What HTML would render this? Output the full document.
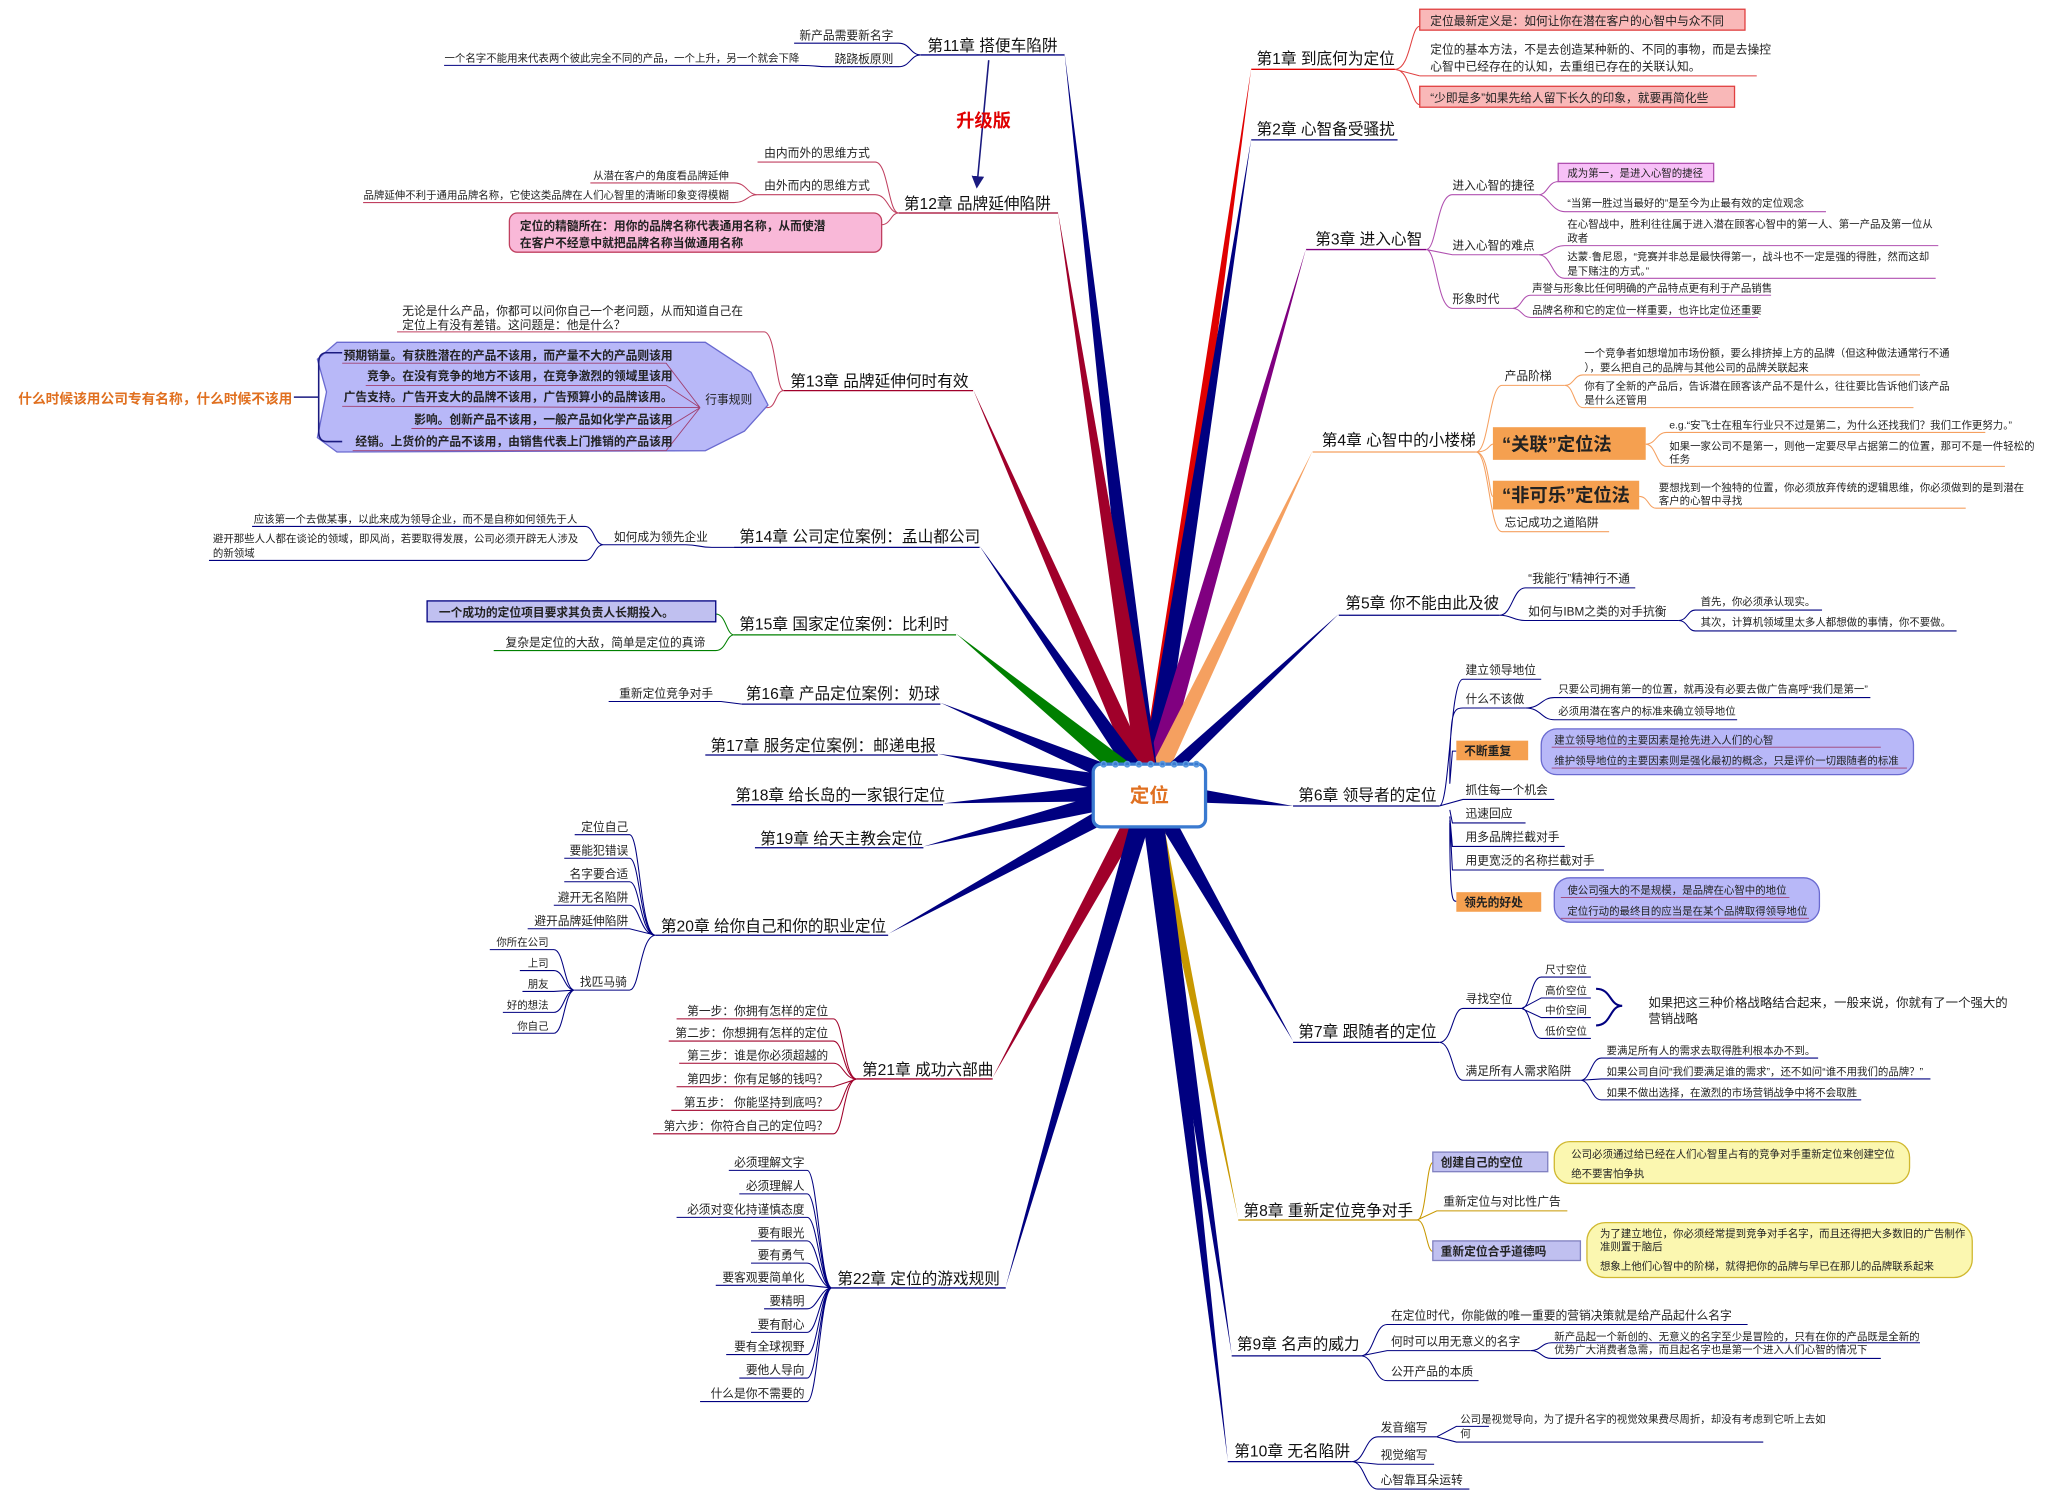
<!DOCTYPE html>
<html><head><meta charset="utf-8"><style>
html,body{margin:0;padding:0;background:#fff}
svg{display:block}
text{font-family:"Liberation Sans","Noto Sans CJK SC",sans-serif;fill:#222}
.c{font-size:12px;fill:#111}
.s{font-size:9px}
.t{font-size:8px}
.b{font-weight:bold}
.e{text-anchor:end}
</style></head><body>
<svg width="2048" height="1497" viewBox="0 0 1568 1146" xmlns="http://www.w3.org/2000/svg">
<defs><marker id="ar" markerWidth="8" markerHeight="8" refX="6" refY="4" orient="auto"><path d="M0,0 L8,4 L0,8 z" fill="#1a1a80"/></marker></defs>

<!-- main branches -->
<g>
<polygon points="872,605 888,605 958,52" fill="#e00000"/>
<polygon points="872,605 888,605 958,106" fill="#000080"/>
<polygon points="872,605 888,605 1000,190" fill="#800080"/>
<polygon points="872,605 888,605 1005,345" fill="#f5a060"/>
<polygon points="872,605 888,605 1025,470" fill="#000080"/>
<polygon points="880,597 880,613 990,617" fill="#000080"/>
<polygon points="872,605 888,605 990,797" fill="#000080"/>
<polygon points="876,605 886,605 948,933" fill="#c89800"/>
<polygon points="872,605 888,605 943,1037" fill="#000080"/>
<polygon points="872,605 888,605 940,1118" fill="#000080"/>
<polygon points="872,605 888,605 815,40" fill="#000080"/>
<polygon points="872,605 888,605 810,162" fill="#a0002a"/>
<polygon points="872,605 888,605 745,298" fill="#a0002a"/>
<polygon points="872,605 888,605 750,418" fill="#000080"/>
<polygon points="885,599 875,612 732,485" fill="#008000"/>
<polygon points="880,597 880,613 720,538" fill="#000080"/>
<polygon points="880,597 880,613 718,577" fill="#000080"/>
<polygon points="880,597 880,613 722,615" fill="#000080"/>
<polygon points="880,597 880,613 707,648" fill="#000080"/>
<polygon points="880,597 880,613 680,715" fill="#000080"/>
<polygon points="872,605 888,605 760,825" fill="#a0002a"/>
<polygon points="872,605 888,605 770,985" fill="#000080"/>
</g>

<!-- center -->
<rect x="837" y="585" width="86" height="48" rx="6" fill="#fff" stroke="#3a7ad0" stroke-width="2.5"/>
<g fill="none" stroke="#5a9ae0" stroke-width="1.2">
<circle cx="845" cy="585" r="2"/><circle cx="854" cy="585" r="2"/><circle cx="863" cy="585" r="2"/><circle cx="872" cy="585" r="2"/><circle cx="881" cy="585" r="2"/><circle cx="890" cy="585" r="2"/><circle cx="899" cy="585" r="2"/><circle cx="908" cy="585" r="2"/><circle cx="916" cy="585" r="2"/>
</g>
<text x="880" y="614" text-anchor="middle" style="font-size:15px;font-weight:bold;fill:#e07020">定位</text>

<!-- chapter labels underlines -->
<g stroke-width="1" fill="none">
<line x1="958" y1="53" x2="1068" y2="53" stroke="#e00000"/>
<line x1="958" y1="107" x2="1070" y2="107" stroke="#000080"/>
<line x1="1000" y1="191" x2="1092" y2="191" stroke="#800080"/>
<line x1="1005" y1="346" x2="1130" y2="346" stroke="#f5a060"/>
<line x1="1025" y1="471" x2="1148" y2="471" stroke="#000080"/>
<line x1="990" y1="617" x2="1102" y2="617" stroke="#000080"/>
<line x1="990" y1="798" x2="1102" y2="798" stroke="#000080"/>
<line x1="948" y1="934" x2="1085" y2="934" stroke="#c89800"/>
<line x1="943" y1="1038" x2="1042" y2="1038" stroke="#000080"/>
<line x1="940" y1="1119" x2="1035" y2="1119" stroke="#000080"/>
<line x1="705" y1="42" x2="815" y2="42" stroke="#000080"/>
<line x1="688" y1="163" x2="810" y2="163" stroke="#a0002a"/>
<line x1="600" y1="299" x2="745" y2="299" stroke="#a0002a"/>
<line x1="562" y1="419" x2="750" y2="419" stroke="#000080"/>
<line x1="562" y1="486" x2="732" y2="486" stroke="#008000"/>
<line x1="568" y1="539" x2="720" y2="539" stroke="#000080"/>
<line x1="540" y1="578" x2="718" y2="578" stroke="#000080"/>
<line x1="560" y1="616" x2="722" y2="616" stroke="#000080"/>
<line x1="578" y1="649" x2="707" y2="649" stroke="#000080"/>
<line x1="502" y1="716" x2="680" y2="716" stroke="#000080"/>
<line x1="656" y1="826" x2="760" y2="826" stroke="#a0002a"/>
<line x1="637" y1="986" x2="770" y2="986" stroke="#000080"/>
</g>
<g class="c">
<text x="962" y="49" class="c">第1章 到底何为定位</text>
<text x="962" y="103" class="c">第2章 心智备受骚扰</text>
<text x="1007" y="187" class="c">第3章 进入心智</text>
<text x="1012" y="341" class="c">第4章 心智中的小楼梯</text>
<text x="1030" y="466" class="c">第5章 你不能由此及彼</text>
<text x="994" y="613" class="c">第6章 领导者的定位</text>
<text x="994" y="794" class="c">第7章 跟随者的定位</text>
<text x="952" y="931" class="c">第8章 重新定位竞争对手</text>
<text x="947" y="1033" class="c">第9章 名声的威力</text>
<text x="945" y="1115" class="c">第10章 无名陷阱</text>
<text x="710" y="39" class="c">第11章 搭便车陷阱</text>
<text x="692" y="160" class="c">第12章 品牌延伸陷阱</text>
<text x="605" y="296" class="c">第13章 品牌延伸何时有效</text>
<text x="566" y="415" class="c">第14章 公司定位案例：孟山都公司</text>
<text x="566" y="482" class="c">第15章 国家定位案例：比利时</text>
<text x="571" y="535" class="c">第16章 产品定位案例：奶球</text>
<text x="544" y="575" class="c">第17章 服务定位案例：邮递电报</text>
<text x="563" y="613" class="c">第18章 给长岛的一家银行定位</text>
<text x="582" y="646" class="c">第19章 给天主教会定位</text>
<text x="506" y="713" class="c">第20章 给你自己和你的职业定位</text>
<text x="660" y="823" class="c">第21章 成功六部曲</text>
<text x="641" y="983" class="c">第22章 定位的游戏规则</text>
</g>

<!-- ch1 -->
<path d="M1068,53 C1080,53 1080,20 1087,20 M1068,53 L1087,58 M1068,53 C1080,53 1080,80 1087,80" stroke="#e04040" fill="none" stroke-width="0.8"/>
<rect x="1087" y="7" width="249" height="16" fill="#f9b8b8" stroke="#e04040"/>
<text x="1095" y="19" class="s">定位最新定义是：如何让你在潜在客户的心智中与众不同</text>
<text x="1095" y="41" class="s">定位的基本方法，不是去创造某种新的、不同的事物，而是去操控</text>
<text x="1095" y="54" class="s">心智中已经存在的认知，去重组已存在的关联认知。</text>
<line x1="1087" y1="58" x2="1345" y2="58" stroke="#e04040" stroke-width="0.8"/>
<rect x="1087" y="66" width="241" height="16" fill="#f9b8b8" stroke="#e04040"/>
<text x="1095" y="78" class="s">“少即是多”如果先给人留下长久的印象，就要再简化些</text>

<!-- ch3 -->
<g stroke="#b050b0" fill="none" stroke-width="0.8">
<path d="M1092,191 C1100,191 1100,149 1112,149 L1178,149 M1092,191 L1112,195 L1178,195 M1092,191 C1100,191 1100,236 1112,236 L1158,236"/>
<path d="M1178,149 C1185,149 1185,139 1193,139 M1178,149 C1185,149 1188,162 1198,162 L1398,162"/>
<path d="M1178,195 C1188,195 1188,188 1198,188 L1484,188 M1178,195 C1188,195 1188,213 1198,213 L1482,213"/>
<path d="M1158,236 C1165,236 1165,226 1172,226 L1356,226 M1158,236 C1165,236 1165,243 1172,243 L1346,243"/>
</g>
<rect x="1193" y="125" width="119" height="14" fill="#f7c0f7" stroke="#b050b0"/>
<text x="1200" y="135" class="t">成为第一，是进入心智的捷径</text>
<text x="1112" y="145" class="s">进入心智的捷径</text>
<text x="1112" y="191" class="s">进入心智的难点</text>
<text x="1112" y="232" class="s">形象时代</text>
<text x="1200" y="158" class="t">“当第一胜过当最好的”是至今为止最有效的定位观念</text>
<text x="1200" y="174" class="t">在心智战中，胜利往往属于进入潜在顾客心智中的第一人、第一产品及第一位从</text>
<text x="1200" y="185" class="t">政者</text>
<text x="1200" y="199" class="t">达蒙·鲁尼恩，“竞赛并非总是最快得第一，战斗也不一定是强的得胜，然而这却</text>
<text x="1200" y="210" class="t">是下赌注的方式。”</text>
<text x="1173" y="223" class="t">声誉与形象比任何明确的产品特点更有利于产品销售</text>
<text x="1173" y="240" class="t">品牌名称和它的定位一样重要，也许比定位还重要</text>

<!-- ch4 -->
<g stroke="#f5a060" fill="none" stroke-width="0.8">
<path d="M1130,346 C1140,346 1140,295 1150,295 L1198,295 M1130,346 C1140,346 1140,340 1143,340 M1130,346 C1140,346 1140,380 1143,380 M1130,346 C1140,346 1140,407 1150,407 L1232,407"/>
<path d="M1198,295 C1205,295 1205,287 1212,287 L1470,287 M1198,295 C1205,295 1205,312 1212,312 L1465,312"/>
<path d="M1260,340 C1268,340 1268,331 1276,331 L1520,331 M1260,340 C1268,340 1268,357 1276,357 L1535,357"/>
<path d="M1255,380 C1262,380 1262,389 1268,389 L1505,389"/>
</g>
<text x="1152" y="291" class="s">产品阶梯</text>
<rect x="1143" y="327" width="117" height="25" fill="#f5a050"/>
<text x="1150" y="345" style="font-size:14px;font-weight:bold;fill:#222">“关联”定位法</text>
<rect x="1143" y="368" width="112" height="22" fill="#f5a050"/>
<text x="1150" y="384" style="font-size:14px;font-weight:bold;fill:#222">“非可乐”定位法</text>
<text x="1152" y="403" class="s">忘记成功之道陷阱</text>
<text x="1213" y="273" class="t">一个竞争者如想增加市场份额，要么排挤掉上方的品牌（但这种做法通常行不通</text>
<text x="1213" y="284" class="t">），要么把自己的品牌与其他公司的品牌关联起来</text>
<text x="1213" y="298" class="t">你有了全新的产品后，告诉潜在顾客该产品不是什么，往往要比告诉他们该产品</text>
<text x="1213" y="309" class="t">是什么还管用</text>
<text x="1278" y="328" class="t">e.g.“安飞士在租车行业只不过是第二，为什么还找我们？我们工作更努力。”</text>
<text x="1278" y="344" class="t">如果一家公司不是第一，则他一定要尽早占据第二的位置，那可不是一件轻松的</text>
<text x="1278" y="354" class="t">任务</text>
<text x="1270" y="376" class="t">要想找到一个独特的位置，你必须放弃传统的逻辑思维，你必须做到的是到潜在</text>
<text x="1270" y="386" class="t">客户的心智中寻找</text>

<!-- ch5 -->
<g stroke="#000080" fill="none" stroke-width="0.8">
<path d="M1148,471 C1158,471 1158,450 1168,450 L1252,450 M1148,471 C1158,471 1158,475 1168,475 L1285,475"/>
<path d="M1285,475 C1292,475 1292,467 1298,467 L1395,467 M1285,475 C1292,475 1292,483 1298,483 L1498,483"/>
</g>
<text x="1170" y="446" class="s">“我能行”精神行不通</text>
<text x="1170" y="471" class="s">如何与IBM之类的对手抗衡</text>
<text x="1302" y="463" class="t">首先，你必须承认现实。</text>
<text x="1302" y="479" class="t">其次，计算机领域里太多人都想做的事情，你不要做。</text>

<!-- ch6 -->
<g stroke="#000080" fill="none" stroke-width="0.8">
<path d="M1102,617 C1110,617 1110,520 1120,520 L1180,520 M1110,600 C1110,545 1112,542 1120,542 L1168,542 M1110,600 L1112,575 L1115,575 M1102,617 L1120,612 L1190,612 M1110,620 L1112,630 L1168,630 M1110,625 L1112,648 L1198,648 M1110,628 L1112,666 L1228,666 M1110,630 C1110,690 1112,690 1115,690"/>
<path d="M1168,542 C1180,542 1180,534 1190,534 L1432,534 M1168,542 C1180,542 1180,551 1190,551 L1330,551"/>
</g>
<text x="1122" y="516" class="s">建立领导地位</text>
<text x="1122" y="538" class="s">什么不该做</text>
<text x="1193" y="530" class="t">只要公司拥有第一的位置，就再没有必要去做广告高呼“我们是第一”</text>
<text x="1193" y="547" class="t">必须用潜在客户的标准来确立领导地位</text>
<rect x="1180" y="558" width="285" height="35" rx="12" fill="#b8b8f8" stroke="#6a6ad0"/>
<line x1="1188" y1="572" x2="1440" y2="572" stroke="#a04070" stroke-width="0.7"/>
<line x1="1188" y1="588" x2="1460" y2="588" stroke="#a04070" stroke-width="0.7"/>
<text x="1190" y="569" class="t">建立领导地位的主要因素是抢先进入人们的心智</text>
<text x="1190" y="585" class="t">维护领导地位的主要因素则是强化最初的概念，只是评价一切跟随者的标准</text>
<rect x="1115" y="567" width="55" height="15" fill="#f5a050"/>
<text x="1121" y="578" class="s b">不断重复</text>
<text x="1122" y="608" class="s">抓住每一个机会</text>
<text x="1122" y="626" class="s">迅速回应</text>
<text x="1122" y="644" class="s">用多品牌拦截对手</text>
<text x="1122" y="662" class="s">用更宽泛的名称拦截对手</text>
<rect x="1190" y="672" width="203" height="34" rx="12" fill="#b8b8f8" stroke="#6a6ad0"/>
<line x1="1195" y1="687" x2="1370" y2="687" stroke="#a04070" stroke-width="0.7"/>
<line x1="1195" y1="703" x2="1385" y2="703" stroke="#a04070" stroke-width="0.7"/>
<text x="1200" y="684" class="t">使公司强大的不是规模，是品牌在心智中的地位</text>
<text x="1200" y="700" class="t">定位行动的最终目的应当是在某个品牌取得领导地位</text>
<rect x="1115" y="683" width="65" height="15" fill="#f5a050"/>
<text x="1121" y="694" class="s b">领先的好处</text>

<!-- ch7 -->
<g stroke="#000080" fill="none" stroke-width="0.8">
<path d="M1102,798 C1112,798 1112,772 1120,772 L1165,772 M1102,798 C1112,798 1112,827 1120,827 L1210,827"/>
<path d="M1165,772 C1172,772 1172,748 1180,748 L1218,748 M1165,772 L1180,764 L1218,764 M1165,772 L1180,779 L1218,779 M1165,772 C1172,772 1172,795 1180,795 L1218,795"/>
<path d="M1210,827 C1218,827 1218,810 1226,810 L1392,810 M1210,827 L1226,826 L1478,826 M1210,827 C1218,827 1218,842 1226,842 L1425,842"/>
<path d="M1222,757 C1234,757 1232,770 1242,770 C1232,770 1234,785 1222,785" stroke-width="1.6"/>
</g>
<text x="1122" y="768" class="s">寻找空位</text>
<text x="1122" y="823" class="s">满足所有人需求陷阱</text>
<text x="1183" y="745" class="t">尺寸空位</text>
<text x="1183" y="761" class="t">高价空位</text>
<text x="1183" y="776" class="t">中价空间</text>
<text x="1183" y="792" class="t">低价空位</text>
<text x="1262" y="771" style="font-size:9.5px">如果把这三种价格战略结合起来，一般来说，你就有了一个强大的</text>
<text x="1262" y="783" style="font-size:9.5px">营销战略</text>
<text x="1230" y="807" class="t">要满足所有人的需求去取得胜利根本办不到。</text>
<text x="1230" y="823" class="t">如果公司自问“我们要满足谁的需求”，还不如问“谁不用我们的品牌？”</text>
<text x="1230" y="839" class="t">如果不做出选择，在激烈的市场营销战争中将不会取胜</text>

<!-- ch8 -->
<g stroke="#c89800" fill="none" stroke-width="0.8">
<path d="M1085,934 C1092,934 1092,890 1097,890 M1085,934 L1100,927 L1200,927 M1085,934 C1092,934 1092,958 1097,958"/>
</g>
<rect x="1190" y="874" width="272" height="32" rx="12" fill="#fbf7b0" stroke="#d0b830"/>
<text x="1203" y="886" class="t">公司必须通过给已经在人们心智里占有的竞争对手重新定位来创建空位</text>
<text x="1203" y="901" class="t">绝不要害怕争执</text>
<rect x="1097" y="882" width="88" height="15" fill="#c0c0f0" stroke="#8080c0"/>
<text x="1103" y="893" class="s b">创建自己的空位</text>
<text x="1105" y="923" class="s">重新定位与对比性广告</text>
<rect x="1215" y="936" width="295" height="42" rx="14" fill="#fbf7b0" stroke="#d0b830"/>
<text x="1225" y="947" class="t">为了建立地位，你必须经常提到竞争对手名字，而且还得把大多数旧的广告制作</text>
<text x="1225" y="957" class="t">准则置于脑后</text>
<text x="1225" y="972" class="t">想象上他们心智中的阶梯，就得把你的品牌与早已在那儿的品牌联系起来</text>
<rect x="1097" y="950" width="113" height="15" fill="#c0c0f0" stroke="#8080c0"/>
<text x="1103" y="961" class="s b">重新定位合乎道德吗</text>

<!-- ch9 -->
<g stroke="#000080" fill="none" stroke-width="0.8">
<path d="M1042,1038 C1052,1038 1052,1014 1062,1014 L1338,1014 M1042,1038 L1062,1034 L1172,1034 M1042,1038 C1052,1038 1052,1057 1062,1057 L1132,1057"/>
<path d="M1172,1034 C1180,1034 1180,1028 1188,1028 L1470,1028 M1172,1034 C1180,1034 1180,1040 1188,1040 L1440,1040"/>
</g>
<text x="1065" y="1010" class="s">在定位时代，你能做的唯一重要的营销决策就是给产品起什么名字</text>
<text x="1065" y="1030" class="s">何时可以用无意义的名字</text>
<text x="1065" y="1053" class="s">公开产品的本质</text>
<text x="1190" y="1026" class="t">新产品起一个新创的、无意义的名字至少是冒险的，只有在你的产品既是全新的</text>
<text x="1190" y="1036" class="t">优势广大消费者急需，而且起名字也是第一个进入人们心智的情况下</text>

<!-- ch10 -->
<g stroke="#000080" fill="none" stroke-width="0.8">
<path d="M1035,1119 C1045,1119 1045,1100 1055,1100 L1100,1100 M1035,1119 L1055,1121 L1098,1121 M1035,1119 C1045,1119 1045,1140 1055,1140 L1125,1140"/>
<path d="M1100,1100 L1115,1092 L1140,1092 M1100,1100 L1115,1104 L1350,1104"/>
</g>
<text x="1057" y="1096" class="s">发音缩写</text>
<text x="1057" y="1117" class="s">视觉缩写</text>
<text x="1057" y="1136" class="s">心智靠耳朵运转</text>
<text x="1118" y="1089" class="t">公司是视觉导向，为了提升名字的视觉效果费尽周折，却没有考虑到它听上去如</text>
<text x="1118" y="1100" class="t">何</text>

<!-- ch11 -->
<g stroke="#000080" fill="none" stroke-width="0.8">
<path d="M705,42 C697,42 697,33 688,33 L608,33 M705,42 C697,42 697,51 688,51 L632,51 M632,51 C625,51 625,50 612,50 L340,50"/>
</g>
<text x="684" y="30" class="s e">新产品需要新名字</text>
<text x="684" y="48" class="s e">跷跷板原则</text>
<text x="612" y="47" class="t e">一个名字不能用来代表两个彼此完全不同的产品，一个上升，另一个就会下降</text>
<line x1="757" y1="46" x2="748" y2="142" stroke="#1a1a80" stroke-width="1.2" marker-end="url(#ar)"/>
<text x="732" y="97" style="font-size:14px;font-weight:bold;fill:#e00000">升级版</text>

<!-- ch12 -->
<g stroke="#c04060" fill="none" stroke-width="0.8">
<path d="M688,163 C680,163 680,124 670,124 L580,124 M688,163 C680,163 680,149 670,149 L580,149 M688,163 C682,163 682,172 675,172"/>
<path d="M580,149 C572,149 572,140 562,140 L452,140 M580,149 C572,149 572,155 562,155 L278,155"/>
</g>
<text x="666" y="120" class="s e">由内而外的思维方式</text>
<text x="666" y="145" class="s e">由外而内的思维方式</text>
<text x="558" y="137" class="t e">从潜在客户的角度看品牌延伸</text>
<text x="558" y="152" class="t e">品牌延伸不利于通用品牌名称，它使这类品牌在人们心智里的清晰印象变得模糊</text>
<rect x="390" y="163" width="285" height="30" rx="6" fill="#f9b8d8" stroke="#c04060"/>
<text x="398" y="176" class="s b">定位的精髓所在：用你的品牌名称代表通用名称，从而使潜</text>
<text x="398" y="189" class="s b">在客户不经意中就把品牌名称当做通用名称</text>

<!-- ch13 -->
<g stroke="#c04060" fill="none" stroke-width="0.8">
<path d="M600,299 C594,299 594,254 585,254 L304,254 M600,299 C594,299 594,312 588,312 L536,312"/>
</g>
<text x="308" y="241" class="s">无论是什么产品，你都可以问你自己一个老问题，从而知道自己在</text>
<text x="308" y="252" class="s">定位上有没有差错。这问题是：他是什么？</text>
<path d="M258,262 L540,262 L575,285 L588,310 L570,330 L540,345 L258,346 L243,335 L250,300 L243,275 Z" fill="#b8b8f8" stroke="#6a6ad0"/>
<g stroke="#a04070" fill="none" stroke-width="0.7">
<path d="M262,278 L510,278 L536,312 M280,295 L510,295 L536,312 M262,311 L536,312 M315,328 L510,328 L536,312 M270,345 L510,345 L536,312"/>
</g>
<text x="515" y="275" class="s b e">预期销量。有获胜潜在的产品不该用，而产量不大的产品则该用</text>
<text x="515" y="291" class="s b e">竞争。在没有竞争的地方不该用，在竞争激烈的领域里该用</text>
<text x="515" y="307" class="s b e">广告支持。广告开支大的品牌不该用，广告预算小的品牌该用。</text>
<text x="515" y="324" class="s b e">影响。创新产品不该用，一般产品如化学产品该用</text>
<text x="515" y="341" class="s b e">经销。上货价的产品不该用，由销售代表上门推销的产品该用</text>
<text x="540" y="309" class="s">行事规则</text>
<path d="M262,270 L250,270 Q244,270 244,278 L244,330 Q244,338 250,338 L262,338 M244,304 L225,304" stroke="#1a1a80" fill="none" stroke-width="1.2"/>
<text x="14" y="309" style="font-size:10.5px;font-weight:bold;fill:#e07020">什么时候该用公司专有名称，什么时候不该用</text>

<!-- ch14 -->
<g stroke="#000080" fill="none" stroke-width="0.8">
<path d="M562,419 L545,419 C535,419 535,417 525,417 L462,417 M462,417 C455,417 455,403 448,403 L193,403 M462,417 C455,417 455,429 448,429 L160,429"/>
</g>
<text x="542" y="414" class="s e">如何成为领先企业</text>
<text x="442" y="400" class="t e">应该第一个去做某事，以此来成为领导企业，而不是自称如何领先于人</text>
<text x="163" y="415" class="t">避开那些人人都在谈论的领域，即风尚，若要取得发展，公司必须开辟无人涉及</text>
<text x="163" y="426" class="t">的新领域</text>

<!-- ch15 -->
<g stroke="#008000" fill="none" stroke-width="0.8">
<path d="M562,486 C556,486 556,470 548,470 M562,486 C556,486 556,498 548,498 L378,498"/>
</g>
<rect x="327" y="460" width="221" height="16" fill="#c0c0f0" stroke="#000080"/>
<text x="336" y="472" class="s b">一个成功的定位项目要求其负责人长期投入。</text>
<text x="540" y="495" class="s e">复杂是定位的大敌，简单是定位的真谛</text>

<!-- ch16 -->
<path d="M568,539 L552,537 L466,537" stroke="#000080" fill="none" stroke-width="0.8"/>
<text x="546" y="534" class="s e">重新定位竞争对手</text>

<!-- ch20 -->
<g stroke="#000080" fill="none" stroke-width="0.8">
<path d="M502,716 C490,716 490,639 482,639 L440,639 M502,716 C490,716 490,657 482,657 L432,657 M502,716 C490,716 490,675 482,675 L432,675 M502,716 C490,716 490,693 482,693 L424,693 M502,716 L482,711 L404,711 M502,716 C490,716 490,758 482,758 L440,758"/>
<path d="M440,758 C432,758 432,727 424,727 L375,727 M440,758 C432,758 432,743 424,743 L398,743 M440,758 L424,759 L400,759 M440,758 C432,758 432,775 424,775 L385,775 M440,758 C432,758 432,791 424,791 L392,791"/>
</g>
<text x="481" y="636" class="s e">定位自己</text>
<text x="481" y="654" class="s e">要能犯错误</text>
<text x="481" y="672" class="s e">名字要合适</text>
<text x="481" y="690" class="s e">避开无名陷阱</text>
<text x="481" y="708" class="s e">避开品牌延伸陷阱</text>
<text x="444" y="755" class="s">找匹马骑</text>
<text x="420" y="724" class="t e">你所在公司</text>
<text x="420" y="740" class="t e">上司</text>
<text x="420" y="756" class="t e">朋友</text>
<text x="420" y="772" class="t e">好的想法</text>
<text x="420" y="788" class="t e">你自己</text>

<!-- ch21 -->
<g stroke="#a0002a" fill="none" stroke-width="0.8">
<path d="M656,826 C646,826 646,780 638,780 L518,780 M656,826 C646,826 646,797 638,797 L512,797 M656,826 C646,826 646,814 638,814 L520,814 M656,826 L638,832 L518,832 M656,826 C646,826 646,850 638,850 L514,850 M656,826 C646,826 646,868 638,868 L500,868"/>
</g>
<text x="634" y="777" class="s e">第一步：你拥有怎样的定位</text>
<text x="634" y="794" class="s e">第二步：你想拥有怎样的定位</text>
<text x="634" y="811" class="s e">第三步：谁是你必须超越的</text>
<text x="634" y="829" class="s e">第四步：你有足够的钱吗？</text>
<text x="634" y="847" class="s e">第五步： 你能坚持到底吗？</text>
<text x="634" y="865" class="s e">第六步：你符合自己的定位吗？</text>

<!-- ch22 -->
<g stroke="#000080" fill="none" stroke-width="0.8">
<path d="M637,986 C628,986 626,896 618,896 L558,896 M637,986 C628,986 626,914 618,914 L566,914 M637,986 C628,986 626,932 618,932 L518,932 M637,986 C628,986 626,950 618,950 L575,950 M637,986 C628,986 626,967 618,967 L575,967 M637,986 L618,984 L548,984 M637,986 C628,986 626,1002 618,1002 L585,1002 M637,986 C628,986 626,1020 618,1020 L575,1020 M637,986 C628,986 626,1037 618,1037 L556,1037 M637,986 C628,986 626,1055 618,1055 L566,1055 M637,986 C628,986 626,1073 618,1073 L536,1073"/>
</g>
<text x="616" y="893" class="s e">必须理解文字</text>
<text x="616" y="911" class="s e">必须理解人</text>
<text x="616" y="929" class="s e">必须对变化持谨慎态度</text>
<text x="616" y="947" class="s e">要有眼光</text>
<text x="616" y="964" class="s e">要有勇气</text>
<text x="616" y="981" class="s e">要客观要简单化</text>
<text x="616" y="999" class="s e">要精明</text>
<text x="616" y="1017" class="s e">要有耐心</text>
<text x="616" y="1034" class="s e">要有全球视野</text>
<text x="616" y="1052" class="s e">要他人导向</text>
<text x="616" y="1070" class="s e">什么是你不需要的</text>
</svg>
</body></html>
